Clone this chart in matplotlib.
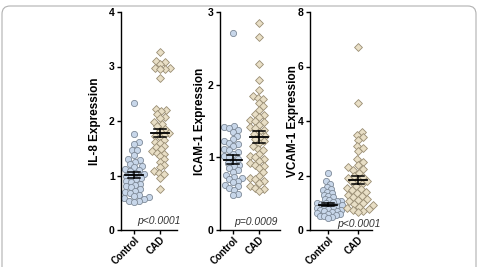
import numpy as np
import matplotlib
matplotlib.use('Agg')
import matplotlib.pyplot as plt
from matplotlib.patches import FancyBboxPatch
from matplotlib.transforms import IdentityTransform

plt.rcParams['font.family'] = ['Liberation Sans', 'DejaVu Sans']

groups = ['Control', 'CAD']

il8_control = [2.33, 1.77, 1.62, 1.58, 1.47, 1.46, 1.38, 1.30, 1.28, 1.25,
               1.22, 1.18, 1.15, 1.12, 1.10, 1.08, 1.05, 1.02, 1.00, 0.98,
               0.95, 0.93, 0.90, 0.88, 0.85, 0.82, 0.80, 0.78, 0.75, 0.72,
               0.70, 0.68, 0.65, 0.62, 0.60, 0.58, 0.56, 0.54, 0.53, 0.52]
il8_cad = [3.26, 3.10, 3.08, 3.05, 2.98, 2.97, 2.96, 2.95, 2.79, 2.22,
           2.20, 2.18, 2.12, 2.08, 2.05, 1.98, 1.95, 1.90, 1.85, 1.82,
           1.78, 1.75, 1.72, 1.70, 1.65, 1.62, 1.60, 1.55, 1.52, 1.48,
           1.45, 1.42, 1.40, 1.35, 1.30, 1.25, 1.20, 1.15, 1.08, 1.05,
           1.02, 0.95, 0.76]
icam_control = [2.71, 1.43, 1.42, 1.40, 1.38, 1.35, 1.30, 1.25, 1.22, 1.20,
                1.18, 1.15, 1.12, 1.10, 1.08, 1.05, 1.02, 1.00, 0.98, 0.95,
                0.92, 0.90, 0.88, 0.85, 0.82, 0.80, 0.76, 0.73, 0.72, 0.70,
                0.68, 0.66, 0.62, 0.60, 0.58, 0.55, 0.50, 0.48]
icam_cad = [2.85, 2.65, 2.28, 2.07, 1.92, 1.85, 1.82, 1.80, 1.75, 1.70,
            1.65, 1.60, 1.58, 1.55, 1.52, 1.50, 1.48, 1.45, 1.42, 1.40,
            1.38, 1.35, 1.32, 1.30, 1.28, 1.25, 1.22, 1.20, 1.15, 1.12,
            1.10, 1.05, 1.02, 1.00, 0.98, 0.95, 0.92, 0.90, 0.88, 0.85,
            0.80, 0.75, 0.72, 0.70, 0.68, 0.65, 0.60, 0.58, 0.56, 0.54]
vcam_control = [2.08, 1.78, 1.70, 1.58, 1.50, 1.45, 1.40, 1.35, 1.30, 1.25,
                1.20, 1.15, 1.10, 1.08, 1.05, 1.02, 1.00, 0.98, 0.95, 0.92,
                0.90, 0.88, 0.85, 0.82, 0.80, 0.78, 0.75, 0.72, 0.70, 0.68,
                0.65, 0.62, 0.60, 0.58, 0.55, 0.52, 0.50, 0.47, 0.44]
vcam_cad = [6.73, 4.66, 3.60, 3.50, 3.40, 3.30, 3.10, 3.00, 2.90, 2.60,
            2.50, 2.40, 2.30, 2.25, 2.20, 2.10, 2.00, 1.95, 1.90, 1.85,
            1.80, 1.75, 1.70, 1.60, 1.55, 1.50, 1.45, 1.40, 1.35, 1.30,
            1.25, 1.20, 1.15, 1.10, 1.05, 1.00, 0.95, 0.90, 0.85, 0.80,
            0.76, 0.72, 0.68, 0.65]

# mean and SEM
means = [[1.01, 1.78], [0.97, 1.28], [0.93, 1.82]]
sems = [[0.06, 0.08], [0.06, 0.08], [0.06, 0.15]]

ylabels = ['IL-8 Expression', 'ICAM-1 Expression', 'VCAM-1 Expression']
ymaxes = [4, 3, 8]
ysteps = [1, 1, 2]
p_texts = ['p<0.0001', 'p=0.0009', 'p<0.0001']
data = [(il8_control, il8_cad), (icam_control, icam_cad), (vcam_control, vcam_cad)]

W, H = 480, 267
# layout in pixels: axis left, axis right, xlim
boxes = [(121, 177, (-0.5, 1.65)), (220, 280, (-0.5, 1.8)), (310, 372, (-0.6, 1.47))]
ytop, ybot = 12, 230
label_dx = [-20, -14, -11]
p_pos = [(159, 224), (255.5, 225.3), (358.5, 227.3)]
spacing = [(5.2, 5.2), (5.2, 5.2), (4.2, 5.6)]

ctrl_fc, ctrl_ec = '#c8d7ea', '#7e8a98'
cad_fc, cad_ec = '#e9dfc6', '#9a8e74'


def swarm(ypix, d):
    order = np.argsort(ypix)
    placed = []
    xs = np.zeros(len(ypix))
    for i in order:
        y = ypix[i]
        cands = [0.0]
        for px, py in placed:
            dy = abs(py - y)
            if dy < d:
                dx = np.sqrt(d * d - dy * dy)
                cands += [px + dx, px - dx]
        cands.sort(key=abs)
        for c in cands:
            if all((c - px) ** 2 + (y - py) ** 2 >= d * d - 1e-6 for px, py in placed):
                xs[i] = c
                break
        placed.append((xs[i], y))
    return xs


fig = plt.figure(figsize=(W / 100, H / 100), dpi=100)

for k in range(3):
    left, right, xlim = boxes[k]
    ax = fig.add_axes([left / W, (H - ybot) / H, (right - left) / W, (ybot - ytop) / H])
    ax.set_xlim(*xlim)
    ax.set_ylim(0, ymaxes[k])
    px_x = (right - left) / (xlim[1] - xlim[0])
    px_y = (ybot - ytop) / ymaxes[k]

    for g, vals in enumerate(data[k]):
        vals = np.array(vals)
        off = swarm(vals * px_y, spacing[k][g]) / px_x
        if g == 0:
            ax.scatter(g + off, vals, s=20, marker='o', fc=ctrl_fc, ec=ctrl_ec,
                       lw=0.6, zorder=2, clip_on=False)
        else:
            ax.scatter(g + off, vals, s=16, marker='D', fc=cad_fc, ec=cad_ec,
                       lw=0.6, zorder=2, clip_on=False)
        m, s = means[k][g], sems[k][g]
        hw = 9 / px_x
        cw = 6 / px_x
        ax.plot([g - hw, g + hw], [m, m], color='black', lw=1.3, zorder=3)
        ax.plot([g, g], [m - s, m + s], color='black', lw=1.1, zorder=3)
        ax.plot([g - cw, g + cw], [m + s, m + s], color='black', lw=1.1, zorder=3)
        ax.plot([g - cw, g + cw], [m - s, m - s], color='black', lw=1.1, zorder=3)

    for side in ['top', 'right']:
        ax.spines[side].set_visible(False)
    for side in ['left', 'bottom']:
        ax.spines[side].set_linewidth(1.0)
    ticks = np.arange(0, ymaxes[k] + 0.1, ysteps[k])
    ax.set_yticks(ticks)
    ax.set_yticklabels([str(int(v)) for v in ticks], fontsize=7.5, fontweight='bold')
    ax.set_xticks([0, 1])
    ax.set_xticklabels(groups, rotation=45, ha='right', rotation_mode='anchor',
                       fontsize=7, fontweight='bold')
    ax.tick_params(axis='both', length=3, width=1.0, pad=1.5)
    ax.tick_params(axis='x', pad=0.5)
    ax.set_ylabel(ylabels[k], fontsize=8.5, fontweight='bold')
    ax.yaxis.set_label_coords(label_dx[k] / (right - left), 0.5)

    px, py = p_pos[k]
    fig.text(px / W, (H - py) / H, p_texts[k], ha='center', va='baseline',
             fontsize=7.5, style='italic', color='#333333')

border = FancyBboxPatch((2, -20), 474, 281, boxstyle='round,pad=0,rounding_size=8',
                        transform=IdentityTransform(), fc='none', ec='#b0b0b0', lw=0.8)
fig.patches.append(border)

fig.savefig('out.png', dpi=100)
